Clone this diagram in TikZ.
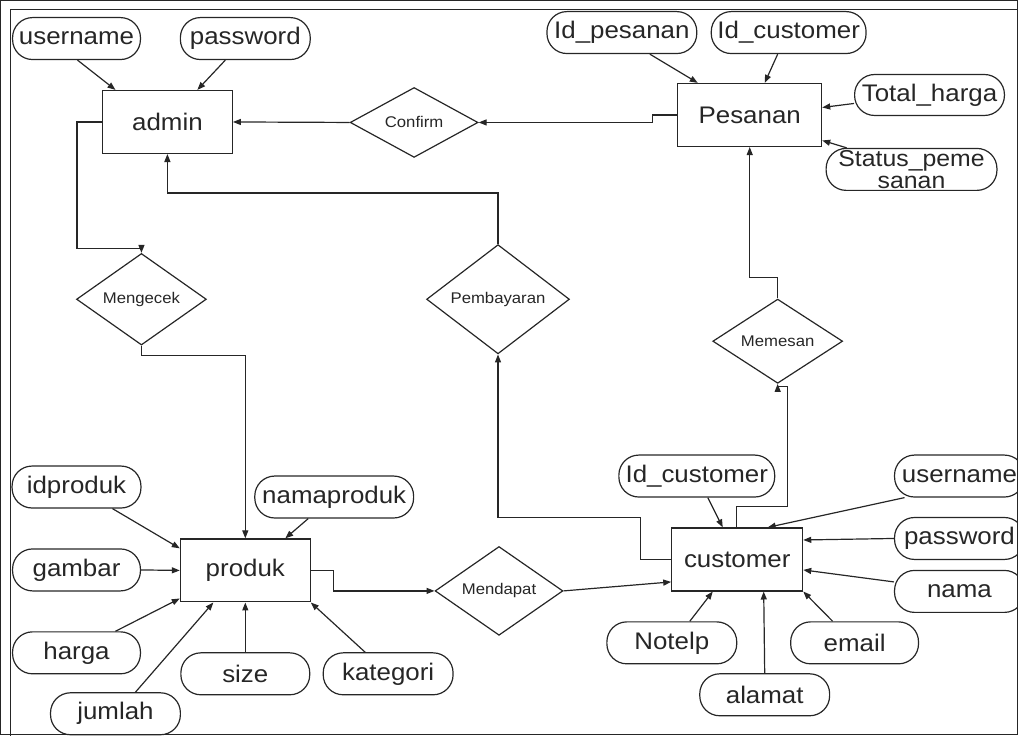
\documentclass[tikz,border=0pt]{standalone}
\usepackage{fontspec}
\setmainfont{Liberation Sans}[FakeStretch=1.08]
\usetikzlibrary{shapes.geometric,arrows.meta}
\begin{document}
\begin{tikzpicture}[x=1pt,y=-1pt,
  every path/.style={line width=1.2pt,draw=black!85},
  ent/.style={draw,rectangle,inner sep=0pt,minimum width=130pt,minimum height=63pt,
    font=\fontsize{24}{24}\selectfont,text=black!85},
  rel/.style={draw,diamond,inner sep=0pt,minimum width=130pt,minimum height=62pt,
    font=\fontsize{15.5}{18}\selectfont,text=black!85},
  attr/.style={draw,rectangle,rounded corners=20pt,inner sep=0pt,minimum width=130pt,minimum height=42pt,
    font=\fontsize{24}{20}\selectfont,text=black!85,align=center},
  arr/.style={-{Triangle[length=8pt,width=6pt]}}
]
\useasboundingbox (0,0) rectangle (1018,735);
\draw[line width=1.5pt] (1020,9) -- (10,9) -- (10,737);

% entities
\node[ent] (admin) at (167,121.5) {admin};
\node[ent,minimum width=144pt] (pesanan) at (750,114.5) {Pesanan};
\node[ent] (produk) at (245,570.5) {produk};
\node[ent,minimum width=131pt] (customer) at (737.5,559.5) {customer};

% relationships
\node[rel,minimum width=128pt] (confirm) at (414,122) {Confirm};
\node[rel] (mengecek) at (141,299) {Mengecek};
\node[rel,minimum width=143pt] (pembayaran) at (498,299) {Pembayaran};
\node[rel] (memesan) at (778,341) {Memesan};
\node[rel,minimum width=128pt] (mendapat) at (499,591) {Mendapat};

% admin attributes
\node[attr,minimum width=128pt] (ausername) at (76,38) {username};
\node[attr] (apassword) at (245,38) {password};

% pesanan attributes
\node[attr,minimum width=150pt] (idpesanan) at (622,32) {Id\_pesanan};
\node[attr,minimum width=155pt] (pidcustomer) at (789,32) {Id\_customer};
\node[attr,minimum width=150pt,minimum height=41pt] (totalharga) at (930,94.5) {Total\_harga};
\node[attr,minimum width=171pt,font=\fontsize{23}{22.5}\selectfont] (status) at (912,169) {Status\_peme\\sanan};

% produk attributes
\node[attr,minimum width=129pt] (idproduk) at (76,487) {idproduk};
\node[attr,minimum width=159pt] (namaproduk) at (334,497) {namaproduk};
\node[attr,minimum width=128pt] (gambar) at (76,570) {gambar};
\node[attr,minimum width=128pt] (harga) at (76,653) {harga};
\node[attr,minimum width=129pt] (size) at (245,674) {size};
\node[attr] (kategori) at (388,674) {kategori};
\node[attr] (jumlah) at (115,714) {jumlah};

% customer attributes
\node[attr,minimum width=156pt] (cidcustomer) at (697,476) {Id\_customer};
\node[attr] (cusername) at (960,476) {username};
\node[attr] (cpassword) at (960,538.5) {password};
\node[attr] (nama) at (960,591.5) {nama};
\node[attr] (notelp) at (672,643) {Notelp};
\node[attr,minimum width=128pt] (email) at (855,643) {email};
\node[attr] (alamat) at (765,695) {alamat};

% relationship connectors
\draw[arr] (confirm.west) -- (admin.east);
\draw[arr] (pesanan.west) -- ++(-25,0) |- (confirm.east);
\draw[arr] (admin.west) -- ++(-25,0) -- ++(0,126.5) -| (mengecek.north);
\draw[arr] (mengecek.south) -- ++(0,10) -| (produk.north);
\draw[arr] (pembayaran.north) -- ++(0,-51) -| (admin.south);
\draw[arr] (customer.west) -- ++(-31,0) -- ++(0,-42) -| (pembayaran.south);
\draw[arr] ([xshift=-0.5pt]customer.north) -- ++(0,-21) -- ++(51,0) -- ++(0,-120) -| (memesan.south);
\draw[arr] (memesan.north) -- ++(0,-21) -| (pesanan.south);
\draw[arr] (produk.east) -- ++(23,0) |- (mendapat.west);
\draw[arr] (mendapat.east) -- ([yshift=-22.5pt]customer.west);

% admin attribute connectors
\draw[arr] ([xshift=1pt]ausername.south) -- ([xshift=-52pt]admin.north);
\draw[arr] ([xshift=-20pt]apassword.south) -- ([xshift=30pt]admin.north);

% pesanan attribute connectors
\draw[arr] ([xshift=28pt]idpesanan.south) -- ([xshift=-52pt]pesanan.north);
\draw[arr] ([xshift=-11pt]pidcustomer.south) -- ([xshift=15pt]pesanan.north);
\draw[arr] ([yshift=-8.5pt]totalharga.west) -- ([yshift=7.5pt]pesanan.east);
\draw[arr] ([xshift=-65pt]status.north) -- ([yshift=-25.5pt]pesanan.east);

% produk attribute connectors
\draw[arr] ([xshift=36pt]idproduk.south) -- ([yshift=-10pt]produk.north west);
\draw[arr] ([xshift=-26pt]namaproduk.south) -- ([xshift=40pt]produk.north);
\draw[arr] (gambar.east) -- (produk.west);
\draw[arr] ([xshift=39pt]harga.north) -- ([yshift=4pt]produk.south west);
\draw[arr] ([xshift=20pt]jumlah.north) -- ([xshift=-32pt]produk.south);
\draw[arr] (size.north) -- (produk.south);
\draw[arr] ([xshift=-23pt]kategori.north) -- (produk.south east);

% customer attribute connectors
\draw[arr] ([xshift=11pt]cidcustomer.south) -- ([xshift=-14.5pt]customer.north);
\draw[arr] ([xshift=-55pt]cusername.south) -- ([xshift=30.5pt]customer.north);
\draw[arr] (cpassword.west) -- ([yshift=19.5pt]customer.east);
\draw[arr] ([yshift=9.5pt]nama.west) -- ([yshift=-10.5pt]customer.east);
\draw[arr] ([xshift=-22pt]email.north) -- (customer.south east);
\draw[arr] (alamat.north) -- ([xshift=26.5pt]customer.south);
\draw[arr] ([xshift=18pt]notelp.north) -- ([xshift=-24.5pt]customer.south);
\end{tikzpicture}
\end{document}
